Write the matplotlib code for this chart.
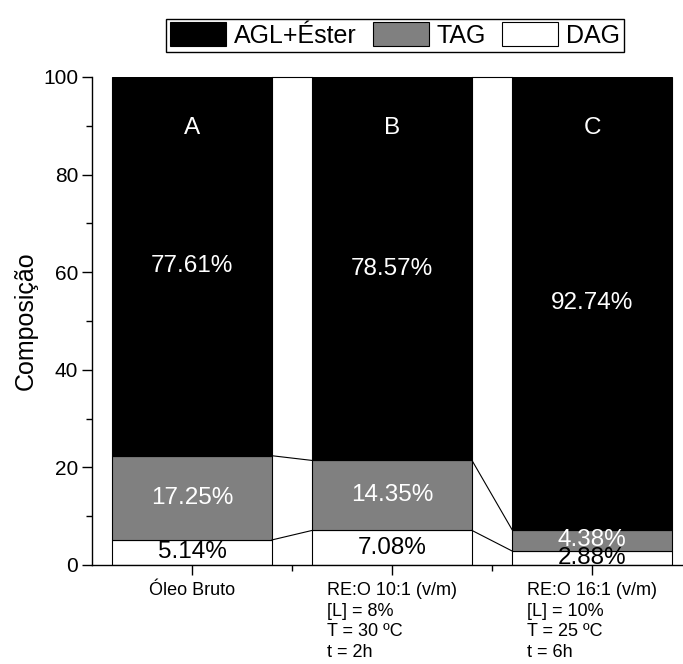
#!/usr/bin/env python3
"""Stacked composition bars (DAG / TAG / AGL+Ester) with connector lines."""

import matplotlib
matplotlib.use("Agg")
import matplotlib.pyplot as plt
from matplotlib.ticker import MultipleLocator, FixedLocator

plt.rcParams["font.family"] = ["Liberation Sans", "DejaVu Sans"]

CATEGORIES = [
    "Óleo Bruto",
    "RE:O 10:1 (v/m)\n[L] = 8%\nT = 30 ºC\nt = 2h",
    "RE:O 16:1 (v/m)\n[L] = 10%\nT = 25 ºC\nt = 6h",
]
BAR_LETTERS = ["A", "B", "C"]
DAG = [5.14, 7.08, 2.88]
TAG = [17.25, 14.35, 4.38]
AGL_ESTER = [77.61, 78.57, 92.74]

SERIES = [
    ("DAG", DAG, "white", "black"),
    ("TAG", TAG, "#808080", "white"),
    ("AGL+Éster", AGL_ESTER, "black", "white"),
]

BAR_W = 0.8


def main():
    fig = plt.figure(figsize=(6.83, 6.64), dpi=100)
    ax = fig.add_axes([92 / 683, 99 / 664, 600 / 683, 488 / 664])

    xs = list(range(1, len(CATEGORIES) + 1))
    bottoms = [0.0] * len(xs)
    handles = {}
    tops_per_layer = []
    for name, vals, color, txt_color in SERIES:
        bars = ax.bar(xs, vals, width=BAR_W, bottom=bottoms, color=color,
                      edgecolor="black", linewidth=0.8, label=name, zorder=2)
        handles[name] = bars
        for x, b, v in zip(xs, bottoms, vals):
            ax.text(x, b + v / 2, f"{v:.2f}%", ha="center", va="center",
                    color=txt_color, fontsize=17.5, zorder=4)
        bottoms = [b + v for b, v in zip(bottoms, vals)]
        tops_per_layer.append(list(bottoms))

    # connector lines between adjacent bars
    for tops in tops_per_layer:
        for i in range(len(xs) - 1):
            ax.plot([xs[i] + BAR_W / 2, xs[i + 1] - BAR_W / 2],
                    [tops[i], tops[i + 1]], color="black", linewidth=0.8,
                    zorder=3, clip_on=False)

    for x, letter in zip(xs, BAR_LETTERS):
        ax.text(x, 89.5, letter, ha="center", va="center", color="white",
                fontsize=17.5, zorder=4)

    ax.set_xlim(0.5, 3.5)
    ax.set_ylim(0, 100)
    ax.set_xticks(xs)
    ax.set_xticklabels(CATEGORIES, fontsize=13, multialignment="left",
                       linespacing=1.3, va="top")
    ax.xaxis.set_minor_locator(FixedLocator([1.5, 2.5]))
    ax.yaxis.set_major_locator(MultipleLocator(20))
    ax.yaxis.set_minor_locator(MultipleLocator(10))
    ax.tick_params(axis="both", which="major", direction="out", length=7,
                   width=1)
    ax.tick_params(axis="y", which="major", labelsize=15, pad=3)
    ax.tick_params(axis="both", which="minor", direction="out", length=4,
                   width=1)
    ax.tick_params(axis="x", which="major", pad=5)
    ax.set_ylabel("Composição", fontsize=18, labelpad=4)

    for side in ("top", "right"):
        ax.spines[side].set_visible(False)
    for side in ("left", "bottom"):
        ax.spines[side].set_linewidth(1)

    order = ["AGL+Éster", "TAG", "DAG"]
    leg = fig.legend([handles[k] for k in order], order, loc="center",
                     bbox_to_anchor=(395 / 683, 1 - 35 / 664), ncol=3,
                     fontsize=18, frameon=True, fancybox=False,
                     edgecolor="black", framealpha=1, handlelength=2.25,
                     handleheight=1.1, handletextpad=0.3, columnspacing=0.65,
                     borderpad=0.15, borderaxespad=0)
    leg.get_frame().set_linewidth(1)

    fig.savefig("out.png", dpi=100)
    plt.close(fig)


if __name__ == "__main__":
    main()
